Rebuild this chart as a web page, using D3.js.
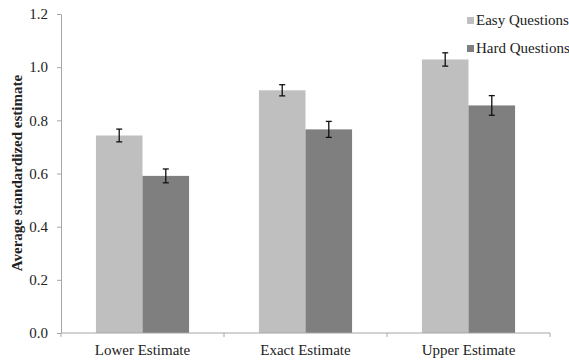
<!DOCTYPE html>
<html><head><meta charset="utf-8">
<script src="https://cdn.jsdelivr.net/npm/d3@7"></script>
<style>body{margin:0;background:#fff}svg{display:block}</style>
</head><body>
<svg id="c" width="569" height="360" font-family="Liberation Serif"></svg>
<script>
const categories = ["Lower Estimate","Exact Estimate","Upper Estimate"];
const seriesNames = ["Easy Questions","Hard Questions"];
const easyValues = [0.743, 0.913, 1.029];
const hardValues = [0.591, 0.766, 0.856];
const easyErrors = [0.024, 0.021, 0.025];
const hardErrors = [0.026, 0.030, 0.037];
const yTicks = [0,0.2,0.4,0.6,0.8,1.0,1.2];
const colors = ["#bfbfbf","#7f7f7f"];
const FONT = "Liberation Serif";

const svg = d3.select("#c");
const mLeft = 61, mRight = 550, mTop = 14, mBottom = 333;
const y = d3.scaleLinear().domain([0,1.2]).range([mBottom, mTop]);
const x0 = d3.scaleBand().domain(categories).range([mLeft, mRight]).paddingInner(0).paddingOuter(0);
const x1 = d3.scaleBand().domain(seriesNames).range([0, x0.bandwidth()]).paddingInner(0).paddingOuter(0.75);

const data = categories.map((c,i)=>({c, vals:[
  {s:seriesNames[0], v:easyValues[i], e:easyErrors[i]},
  {s:seriesNames[1], v:hardValues[i], e:hardErrors[i]}]}));

const g = svg.append("g").selectAll("g").data(data).join("g")
  .attr("transform", d=>`translate(${x0(d.c)},0)`);
g.selectAll("rect").data(d=>d.vals).join("rect")
  .attr("x", d=>x1(d.s)).attr("width", x1.bandwidth())
  .attr("y", d=>y(d.v)).attr("height", d=>y(0)-y(d.v))
  .attr("fill", (d,i)=>colors[i]);
const eb = g.selectAll("g.eb").data(d=>d.vals).join("g").attr("class","eb")
  .attr("transform", d=>`translate(${x1(d.s)+x1.bandwidth()/2},0)`);
eb.append("line").attr("y1", d=>y(d.v+d.e)).attr("y2", d=>y(d.v-d.e)).attr("stroke","#111").attr("stroke-width",1.3);
eb.append("line").attr("x1",-3).attr("x2",3).attr("y1", d=>y(d.v+d.e)).attr("y2", d=>y(d.v+d.e)).attr("stroke","#111").attr("stroke-width",1.3);
eb.append("line").attr("x1",-3).attr("x2",3).attr("y1", d=>y(d.v-d.e)).attr("y2", d=>y(d.v-d.e)).attr("stroke","#111").attr("stroke-width",1.3);

// y axis
const ya = svg.append("g").attr("transform",`translate(${mLeft},0)`)
  .call(d3.axisLeft(y).tickValues(yTicks).tickFormat(d3.format(".1f")).tickSize(4).tickSizeOuter(0));
ya.attr("font-family", FONT).attr("font-size", 15);
ya.select(".domain").attr("stroke","#a6a6a6");
ya.selectAll(".tick line").attr("stroke","#a6a6a6");
ya.selectAll(".tick text").attr("fill","#222").attr("x",-13).attr("font-family", FONT).attr("font-size",15);

// x axis
const xa = svg.append("g").attr("transform",`translate(0,${mBottom})`).attr("font-family", FONT);
xa.append("line").attr("x1",mLeft).attr("x2",mRight).attr("stroke","#a6a6a6");
const xt = [mLeft, ...categories.map(c=>x0(c)+x0.bandwidth())];
xa.selectAll("line.t").data(xt).join("line").attr("class","t")
  .attr("x1",d=>d).attr("x2",d=>d).attr("y1",0).attr("y2",4).attr("stroke","#a6a6a6");
xa.selectAll("text").data(categories).join("text")
  .attr("x", d=>x0(d)+x0.bandwidth()/2).attr("y",22)
  .attr("text-anchor","middle").attr("font-family", FONT).attr("font-size",15).attr("fill","#222").text(d=>d);

// y title
svg.append("text").attr("transform","translate(22,173) rotate(-90)")
  .attr("font-family", FONT)
  .attr("text-anchor","middle").attr("font-size",15).attr("font-weight","bold").attr("fill","#222")
  .text("Average standardized estimate");

// legend
const lg = svg.append("g").attr("font-family", FONT).selectAll("g").data(seriesNames).join("g")
  .attr("transform",(d,i)=>`translate(467,${17+i*28})`);
lg.append("rect").attr("width",7).attr("height",7).attr("fill",(d,i)=>colors[i]);
lg.append("text").attr("x",9).attr("y",8).attr("font-family", FONT).attr("font-size",15).attr("fill","#222").text(d=>d);
</script>
</body></html>
